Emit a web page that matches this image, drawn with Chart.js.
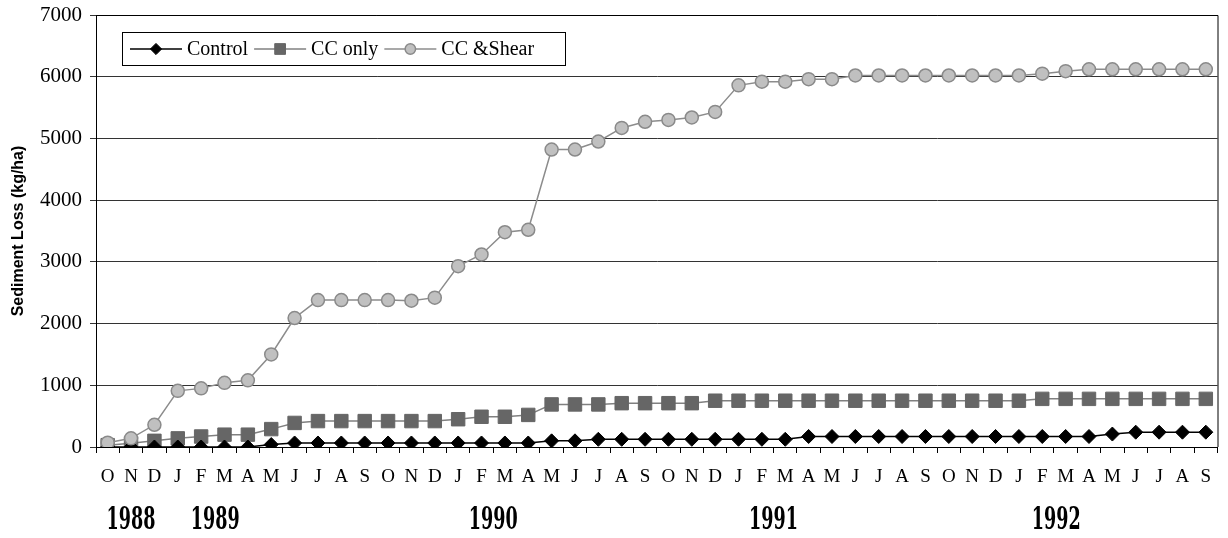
<!DOCTYPE html>
<html><head><meta charset="utf-8">
<script src="https://cdn.jsdelivr.net/npm/chart.js@4"></script>
<style>html,body{margin:0;padding:0;background:#fff}#wrap{width:1228px;height:538px;position:relative}</style>
</head><body><div id="wrap"><canvas id="c" width="1228" height="538"></canvas></div>
<script>
const months = ['O','N','D',
  'J','F','M','A','M','J','J','A','S','O','N','D',
  'J','F','M','A','M','J','J','A','S','O','N','D',
  'J','F','M','A','M','J','J','A','S','O','N','D',
  'J','F','M','A','M','J','J','A','S'];
const control = [0,0,0, 0,0,0,0,40,65,65,65,65,65,65,65,
  65,65,65,65,100,100,125,125,125,125,125,125,
  125,125,125,170,170,170,170,170,170,170,170,170,
  170,170,170,170,210,240,240,240,240];
const ccOnly = [30,60,100, 140,170,200,200,290,390,420,420,420,420,420,420,
  450,490,490,520,690,690,690,710,710,710,710,750,
  750,750,750,750,750,750,750,750,750,750,750,750,
  750,780,780,780,780,780,780,780,780];
const ccShear = [70,140,360, 910,950,1040,1080,1500,2090,2380,2380,2380,2380,2370,2420,
  2930,3120,3480,3520,4820,4820,4950,5170,5270,5300,5340,5430,
  5860,5920,5920,5960,5960,6020,6020,6020,6020,6020,6020,6020,
  6020,6050,6090,6120,6120,6120,6120,6120,6120];
const seriesNames = ['Control','CC only','CC &Shear'];
const yMin = 0, yMax = 7000, yStep = 1000;
const years = ['1988','1989','1990','1991','1992'];
// month index (fractional) under which each year label is centred
const yearAnchors = [1.0, 4.6, 16.5, 28.5, 40.6];

function drawMarker(ctx, style, x, y, r, fill, stroke, bw){
  ctx.save();
  ctx.fillStyle = fill; ctx.strokeStyle = stroke; ctx.lineWidth = bw;
  ctx.beginPath();
  if (style === 'rectRot'){ ctx.moveTo(x-r,y); ctx.lineTo(x,y-r); ctx.lineTo(x+r,y); ctx.lineTo(x,y+r); ctx.closePath(); }
  else if (style === 'rect'){ const s = Math.SQRT1_2*r; ctx.rect(x-s,y-s,2*s,2*s); }
  else { ctx.arc(x,y,r,0,Math.PI*2); }
  ctx.fill(); if (bw>0) ctx.stroke();
  ctx.restore();
}

const legendPlugin = {
  id: 'lineLegend',
  afterDraw(chart){
    const ctx = chart.ctx, ca = chart.chartArea;
    const bx = ca.left + 26, by = ca.top + 17, bw = 443, bh = 33;
    ctx.save();
    ctx.fillStyle = '#fff'; ctx.fillRect(bx, by, bw, bh);
    ctx.strokeStyle = '#000'; ctx.lineWidth = 1;
    ctx.strokeRect(bx+0.5, by+0.5, bw, bh);
    ctx.font = '20px "Liberation Serif"';
    ctx.textBaseline = 'middle'; ctx.textAlign = 'left';
    let x = bx + 8; const cy = by + bh/2 + 0.5;
    chart.data.datasets.forEach((ds) => {
      ctx.strokeStyle = ds.borderColor; ctx.lineWidth = ds.borderWidth;
      ctx.beginPath(); ctx.moveTo(x, cy); ctx.lineTo(x+52, cy); ctx.stroke();
      drawMarker(ctx, ds.pointStyle, x+26, cy, ds.pointRadius*0.8, ds.pointBackgroundColor, ds.pointBorderColor, ds.pointBorderWidth);
      ctx.fillStyle = '#000';
      ctx.fillText(ds.label, x+57, cy+1);
      x = x + 57 + ctx.measureText(ds.label).width + 6;
    });
    ctx.restore();
  }
};

const framePlugin = {
  id: 'frame',
  afterDatasetsDraw(chart){
    const ctx = chart.ctx, ca = chart.chartArea;
    ctx.save(); ctx.strokeStyle = '#000'; ctx.lineWidth = 1;
    ctx.beginPath();
    ctx.moveTo(ca.left, ca.top+0.5); ctx.lineTo(ca.right+0.5, ca.top+0.5); ctx.lineTo(ca.right+0.5, ca.bottom);
    ctx.stroke(); ctx.restore();
  }
};

const yearPlugin = {
  id: 'years',
  afterDraw(chart){
    const xs = chart.scales.x, ctx = chart.ctx, ca = chart.chartArea;
    const p0 = xs.getPixelForValue(0), p1 = xs.getPixelForValue(1);
    ctx.save();
    ctx.font = 'bold 32px "DejaVu Serif"';
    ctx.fillStyle = '#000'; ctx.textAlign = 'center'; ctx.textBaseline = 'middle';
    years.forEach((y, i) => {
      const x = p0 + (p1 - p0) * yearAnchors[i];
      ctx.save(); ctx.translate(x, ca.bottom + 74); ctx.scale(0.55, 1);
      ctx.fillText(y, 0, 0); ctx.restore();
    });
    ctx.restore();
  }
};

new Chart(document.getElementById('c'), {
  type: 'line',
  data: {
    labels: months,
    datasets: [
      { label: seriesNames[0], data: control, borderColor: '#000000', borderWidth: 1.5,
        pointStyle: 'rectRot', pointRadius: 7, pointBackgroundColor: '#000000', pointBorderColor: '#000000', pointBorderWidth: 1, order: 1 },
      { label: seriesNames[1], data: ccOnly, borderColor: '#808080', borderWidth: 1.5,
        pointStyle: 'rect', pointRadius: 9.5, pointBackgroundColor: '#666666', pointBorderColor: '#666666', pointBorderWidth: 1, order: 2 },
      { label: seriesNames[2], data: ccShear, borderColor: '#8c8c8c', borderWidth: 1.5,
        pointStyle: 'circle', pointRadius: 6.5, pointBackgroundColor: '#c0c0c0', pointBorderColor: '#8a8a8a', pointBorderWidth: 1.5, order: 0 }
    ]
  },
  options: {
    responsive: false, animation: false, devicePixelRatio: 1,
    layout: { padding: { top: 15, right: 3, left: 0, bottom: 0 } },
    plugins: { legend: { display: false }, tooltip: { enabled: false } },
    elements: { line: { tension: 0 } },
    scales: {
      x: {
        offset: true,
        grid: { offset: true, drawOnChartArea: false, drawTicks: true, tickLength: 6, color: '#000' },
        border: { display: true, color: '#000', width: 1 },
        ticks: { autoSkip: false, maxRotation: 0, minRotation: 0, padding: 13, color: '#000',
          font: { family: '"Liberation Serif"', size: 19 } },
        afterFit(s){ s.height = 91; s.paddingLeft = 0; s.paddingRight = 0; }
      },
      y: {
        min: yMin, max: yMax,
        ticks: { stepSize: yStep, padding: 8, color: '#000', font: { family: '"Liberation Serif"', size: 21 },
          callback: (v) => String(v) },
        grid: { color: '#333', tickLength: 6, drawTicks: true },
        border: { display: true, color: '#000', width: 1 },
        title: { display: true, text: 'Sediment Loss (kg/ha)', color: '#000',
          font: { family: '"Liberation Sans"', size: 16, weight: 'bold' }, padding: { top: 9, bottom: 0 } },
        afterFit(s){ s.width = 96; s.paddingTop = 0; s.paddingBottom = 0; }
      }
    }
  },
  plugins: [framePlugin, legendPlugin, yearPlugin]
});
</script></body></html>
